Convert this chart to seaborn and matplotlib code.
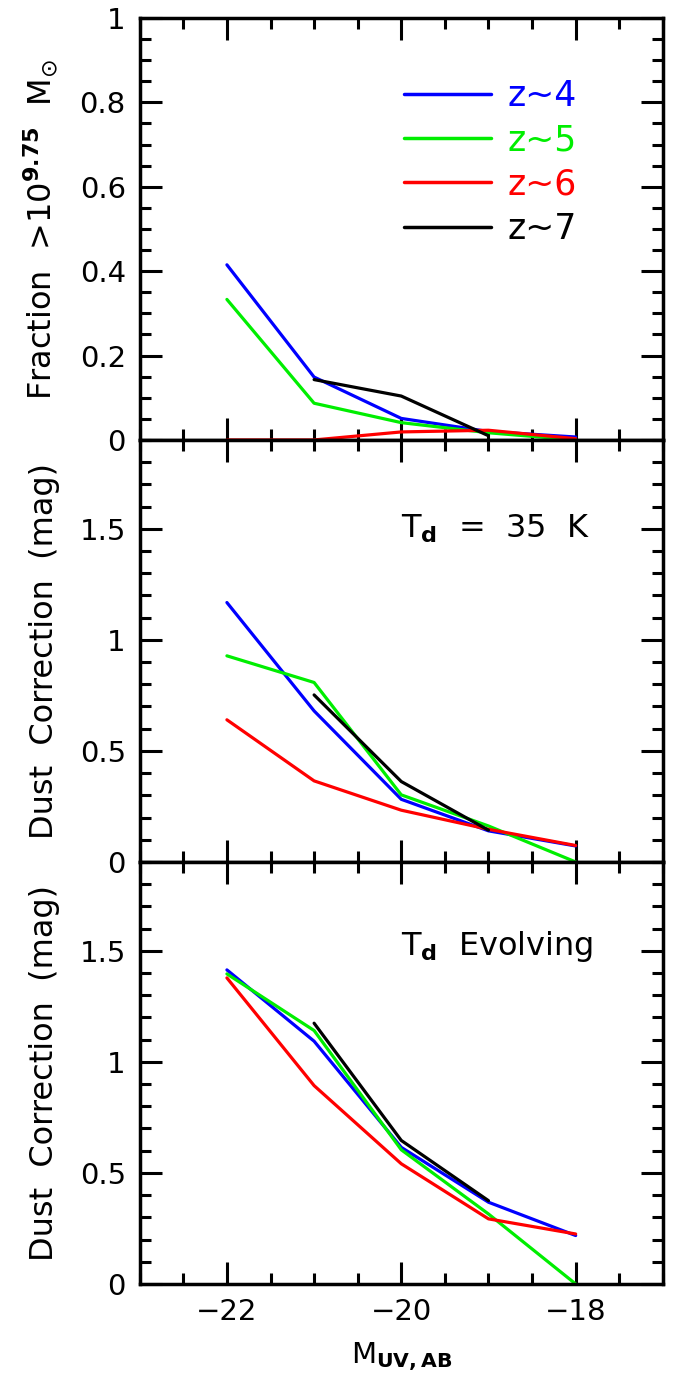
import numpy as np
import pandas as pd
import seaborn as sns
import matplotlib.pyplot as plt
from matplotlib.ticker import MultipleLocator, FuncFormatter

# magnitudes
m_uv = [-22, -21, -20, -19, -18]
labels = ["z~4", "z~5", "z~6", "z~7"]
cores = ["#0000ff", "#00ee00", "#ff0000", "#000000"]

# fraction of galaxies > 10^9.75 Msun
frac_z4 = [0.415, 0.149, 0.051, 0.020, 0.007]
frac_z5 = [0.333, 0.087, 0.041, 0.017, 0.0]
frac_z6 = [0.0, 0.0, 0.019, 0.023, 0.003]
frac_z7 = [np.nan, 0.143, 0.104, 0.010, np.nan]

# dust correction, Td = 35 K
d35_z4 = [1.168, 0.680, 0.282, 0.140, 0.072]
d35_z5 = [0.928, 0.808, 0.302, 0.162, 0.0]
d35_z6 = [0.640, 0.365, 0.233, 0.147, 0.074]
d35_z7 = [np.nan, 0.752, 0.362, 0.143, np.nan]

# dust correction, Td evolving
dev_z4 = [1.414, 1.093, 0.615, 0.368, 0.218]
dev_z5 = [1.396, 1.141, 0.604, 0.315, 0.0]
dev_z6 = [1.378, 0.893, 0.541, 0.293, 0.225]
dev_z7 = [np.nan, 1.174, 0.646, 0.375, np.nan]


def montar(series):
    linhas = []
    for lab, vals in zip(labels, series):
        for x, y in zip(m_uv, vals):
            if not np.isnan(y):
                linhas.append({"M": x, "val": y, "z": lab})
    return pd.DataFrame(linhas)


sns.set_style("ticks", {"axes.edgecolor": "black", "xtick.color": "black",
                        "ytick.color": "black", "text.color": "black",
                        "axes.labelcolor": "black"})
plt.rcParams['font.family'] = ['DejaVu Sans']
plt.rcParams['mathtext.fontset'] = 'dejavusans'

fig, axes = plt.subplots(3, 1, figsize=(6.75, 13.8), dpi=100, sharex=True)
fig.subplots_adjust(left=0.207, right=0.982, top=0.987, bottom=0.0696, hspace=0)

dados = [
    montar([frac_z4, frac_z5, frac_z6, frac_z7]),
    montar([d35_z4, d35_z5, d35_z6, d35_z7]),
    montar([dev_z4, dev_z5, dev_z6, dev_z7]),
]
paleta = dict(zip(labels, cores))

for i, (ax, df) in enumerate(zip(axes, dados)):
    sns.lineplot(data=df, x="M", y="val", hue="z", palette=paleta, ax=ax,
                 linewidth=2.3, legend=(i == 0), estimator=None, sort=True)
    ax.set_xlim(-23, -17)
    ax.xaxis.set_major_locator(MultipleLocator(2))
    ax.xaxis.set_minor_locator(MultipleLocator(0.5))
    if i == 0:
        ax.set_ylim(0, 1)
        ax.yaxis.set_major_locator(MultipleLocator(0.2))
        ax.yaxis.set_minor_locator(MultipleLocator(0.05))
        ax.set_ylabel(r"Fraction  >10$^{\mathbf{9.75}}$  M$_{\odot}$", fontsize=23, labelpad=14)
    else:
        ax.set_ylim(0, 1.9)
        ax.yaxis.set_major_locator(MultipleLocator(0.5))
        ax.yaxis.set_minor_locator(MultipleLocator(0.1))
        ax.set_ylabel("Dust  Correction  (mag)", fontsize=23, labelpad=14)
    ax.yaxis.set_major_formatter(FuncFormatter(lambda v, p: f"{v:g}"))
    ax.tick_params(which="both", direction="in", top=True, right=True,
                   labelsize=21, width=2.2, color="black", labelcolor="black")
    ax.tick_params(which="major", length=16, pad=10)
    ax.tick_params(which="minor", length=8)
    for s in ax.spines.values():
        s.set_linewidth(2.5)
        s.set_color("black")
    ax.set_xlabel("")

axes[2].set_xticks([-22, -20, -18])
axes[2].set_xlabel(r"M$_{\mathbf{UV,AB}}$", fontsize=21, labelpad=10)

axes[1].text(0.50, 0.79, r"T$_{\mathbf{d}}$  =  35  K", transform=axes[1].transAxes,
             fontsize=23, ha="left", va="center")
axes[2].text(0.50, 0.80, r"T$_{\mathbf{d}}$  Evolving", transform=axes[2].transAxes,
             fontsize=23, ha="left", va="center")

leg = axes[0].legend(loc="upper left", bbox_to_anchor=(0.445, 0.93), frameon=False,
                     fontsize=25, handlelength=2.5, handletextpad=0.5,
                     labelspacing=0.3, labelcolor="linecolor")
for h in leg.get_lines():
    h.set_linewidth(2.5)

plt.savefig("out.png", dpi=100)
